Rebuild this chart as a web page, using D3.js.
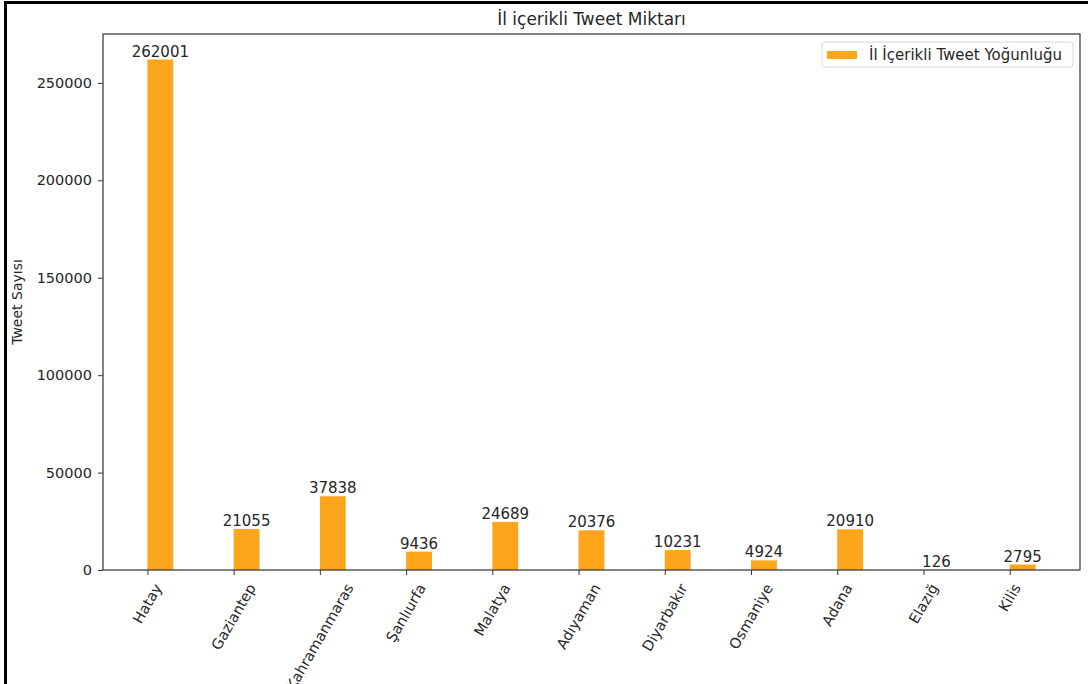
<!DOCTYPE html>
<html>
<head>
<meta charset="utf-8">
<script src="https://cdn.jsdelivr.net/npm/d3@7"></script>
<style>
  html, body { margin: 0; padding: 0; background: #fff; }
  svg { display: block; font-family: "DejaVu Sans", sans-serif; }
</style>
</head>
<body>
<svg id="chart" width="1088" height="684"></svg>
<script>
const categories = ["Hatay", "Gaziantep", "Kahramanmaras", "Şanlıurfa", "Malatya", "Adıyaman", "Diyarbakır", "Osmaniye", "Adana", "Elazığ", "Kilis"];
const values = [262001, 21055, 37838, 9436, 24689, 20376, 10231, 4924, 20910, 126, 2795];
const yTicks = [0, 50000, 100000, 150000, 200000, 250000];
const title = "İl içerikli Tweet Miktarı";
const yLabel = "Tweet Sayısı";
const legendLabel = "İl İçerikli Tweet Yoğunluğu";

const svg = d3.select("#chart");
const W = 1088, H = 684;
const m = { left: 103, top: 34, right: 1080, bottom: 570 };
const barColor = "#fda51b";
const textColor = "#262626";
const barW = 0.3;

// outer frame
svg.append("line").attr("x1", 5.5).attr("x2", 5.5).attr("y1", 1).attr("y2", H)
  .attr("stroke", "#000").attr("stroke-width", 3);
svg.append("line").attr("x1", 4).attr("x2", W).attr("y1", 2.5).attr("y2", 2.5)
  .attr("stroke", "#000").attr("stroke-width", 3);

const n = categories.length;
const pad = (n - 1 + barW) * 0.05;
const x = d3.scaleLinear().domain([-pad, n - 1 + barW + pad]).range([m.left, m.right]);
const yMax = d3.max(values) * 1.05;
const y = d3.scaleLinear().domain([0, yMax]).range([m.bottom, m.top]);

// bars
svg.append("g").selectAll("rect").data(values).join("rect")
  .attr("x", (d, i) => x(i))
  .attr("width", (d, i) => x(i + barW) - x(i))
  .attr("y", d => y(d))
  .attr("height", d => y(0) - y(d))
  .attr("fill", barColor);

// value labels
svg.append("g").selectAll("text").data(values).join("text")
  .attr("x", (d, i) => x(i + barW / 2))
  .attr("y", d => y(d) - 3)
  .attr("text-anchor", "middle")
  .attr("font-size", 15)
  .attr("fill", textColor)
  .text(d => d);

// y axis
const yAxis = d3.axisLeft(y).tickValues(yTicks).tickSize(5).tickPadding(6).tickFormat(d => d);
const gy = svg.append("g").attr("transform", `translate(${m.left},0)`).call(yAxis);
gy.select(".domain").remove();
gy.selectAll(".tick line").attr("stroke", "#333");
gy.selectAll(".tick text").attr("font-size", 14.5).attr("fill", textColor)
  .attr("font-family", "DejaVu Sans, sans-serif");

// x axis ticks
const xAxis = d3.axisBottom(x).tickValues(d3.range(n)).tickSize(5).tickFormat("");
const gx = svg.append("g").attr("transform", `translate(0,${m.bottom})`).call(xAxis);
gx.select(".domain").remove();
gx.selectAll(".tick line").attr("stroke", "#333");

// rotated x labels (matplotlib-style: rotated bbox centered on tick)
const labelTop = m.bottom + 11;
const fs = 14.5;
const ang = 60 * Math.PI / 180;
const lg = svg.append("g");
categories.forEach((c, i) => {
  const t = lg.append("text")
    .attr("font-size", fs)
    .attr("fill", textColor)
    .attr("text-anchor", "middle")
    .attr("dominant-baseline", "central")
    .text(c);
  const w = t.node().getComputedTextLength();
  const h = fs * 1.1;
  const bh = w * Math.sin(ang) + h * Math.cos(ang);
  const cx = x(i), cy = labelTop + bh / 2;
  t.attr("transform", `translate(${cx},${cy}) rotate(-60)`);
});

// plot frame
svg.append("rect").attr("x", m.left).attr("y", m.top)
  .attr("width", m.right - m.left).attr("height", m.bottom - m.top)
  .attr("fill", "none").attr("stroke", "#333").attr("stroke-width", 1.2);

// title
svg.append("text").attr("x", (m.left + m.right) / 2).attr("y", 25)
  .attr("text-anchor", "middle").attr("font-size", 17).attr("fill", textColor)
  .text(title);

// y label
svg.append("text").attr("transform", `translate(22,${(m.top + m.bottom) / 2}) rotate(-90)`)
  .attr("text-anchor", "middle").attr("font-size", 14).attr("fill", textColor)
  .text(yLabel);

// legend
const lgX = 822, lgY = 42;
svg.append("rect").attr("x", lgX).attr("y", lgY).attr("width", 251).attr("height", 25)
  .attr("rx", 3).attr("fill", "#fff").attr("stroke", "#d8d8d8");
svg.append("rect").attr("x", lgX + 5).attr("y", lgY + 9).attr("width", 30).attr("height", 8)
  .attr("fill", barColor);
svg.append("text").attr("x", lgX + 47).attr("y", lgY + 18).attr("font-size", 15)
  .attr("fill", textColor).text(legendLabel);
</script>
</body>
</html>
